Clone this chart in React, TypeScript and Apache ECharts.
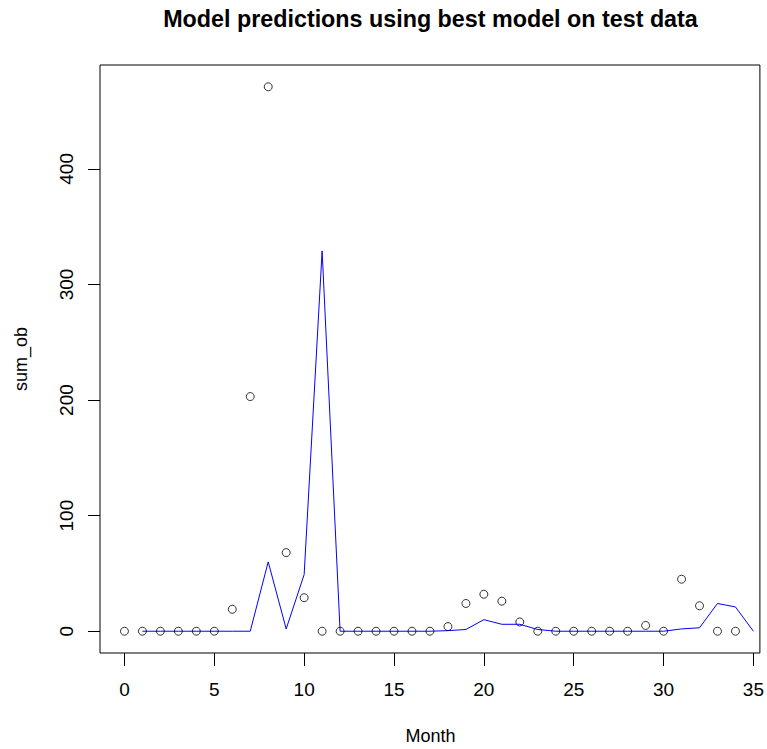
import React, { useEffect, useRef } from "react";
import * as echarts from "echarts";

// Observed monthly totals (months 0..34)
const obsMonths = Array.from({ length: 35 }, (_, i) => i);
const observed = [
  0, 0, 0, 0, 0, 0, 19, 203, 471, 68, 29, 0, 0, 0, 0, 0, 0, 0, 4, 24, 32, 26, 8,
  0, 0, 0, 0, 0, 0, 5, 0, 45, 22, 0, 0,
];

// Predicted values from the best model (months 1..35)
const predMonths = Array.from({ length: 35 }, (_, i) => i + 1);
const predicted = [
  0, 0, 0, 0, 0, 0, 0, 60, 2, 49, 329, 0, 0, 0, 0, 0, 0, 0.5, 1.5, 10, 6, 6, 1.5,
  0, 0, 0, 0, 0, 0, 0, 2, 3, 24, 21, 0,
];

const xTicks = [0, 5, 10, 15, 20, 25, 30, 35];
const yTicks = [0, 100, 200, 300, 400];

const FONT = "'Liberation Sans', Arial, sans-serif";

export default function App() {
  const ref = useRef<HTMLDivElement>(null);

  useEffect(() => {
    document.body.style.margin = "0";
    if (!ref.current) return;
    const chart = echarts.init(ref.current, undefined, { renderer: "svg" });

    // R-style 4% padding around the data range
    const xMinD = 0, xMaxD = 34;
    const xPad = (xMaxD - xMinD) * 0.04;
    const yMinD = 0, yMaxD = Math.max(...observed);
    const yPad = (yMaxD - yMinD) * 0.04;

    chart.setOption({
      animation: false,
      backgroundColor: "#ffffff",
      grid: {
        left: 100,
        top: 65,
        width: 661,
        height: 588,
        show: true,
        borderColor: "#000",
        borderWidth: 1,
        backgroundColor: "transparent",
      },
      xAxis: {
        type: "value",
        min: xMinD - xPad,
        max: xMaxD + xPad,
        splitLine: { show: false },
        axisLine: { show: false, onZero: false },
        axisTick: {
          show: true,
          length: 13,
          customValues: xTicks,
          lineStyle: { color: "#000" },
        },
        axisLabel: {
          customValues: xTicks,
          margin: 27,
          fontSize: 19,
          fontFamily: FONT,
          color: "#000",
        },
      },
      yAxis: {
        type: "value",
        min: yMinD - yPad,
        max: yMaxD + yPad,
        splitLine: { show: false },
        axisLine: { show: false, onZero: false },
        axisTick: {
          show: true,
          length: 12,
          customValues: yTicks,
          lineStyle: { color: "#000" },
        },
        axisLabel: {
          customValues: yTicks,
          rotate: 90,
          margin: 24,
          fontSize: 19,
          fontFamily: FONT,
          color: "#000",
        },
      },
      graphic: [
        {
          type: "text",
          x: 430.5,
          y: 18.5,
          style: {
            text: "Model predictions using best model on test data",
            font: `bold 23.3px ${FONT}`,
            fill: "#000",
            textAlign: "center",
            textVerticalAlign: "middle",
          },
        },
        {
          type: "text",
          x: 430.5,
          y: 736,
          style: {
            text: "Month",
            font: `18px ${FONT}`,
            fill: "#000",
            textAlign: "center",
            textVerticalAlign: "middle",
          },
        },
        {
          type: "text",
          x: 21,
          y: 359,
          rotation: Math.PI / 2,
          style: {
            text: "sum_ob",
            font: `18px ${FONT}`,
            fill: "#000",
            textAlign: "center",
            textVerticalAlign: "middle",
          },
        },
      ],
      series: [
        {
          type: "line",
          data: predMonths.map((m, i) => [m, predicted[i]]),
          showSymbol: false,
          lineStyle: { color: "#0000ff", width: 1 },
          z: 2,
        },
        {
          type: "scatter",
          data: obsMonths.map((m, i) => [m, observed[i]]),
          symbol: "circle",
          symbolSize: 8,
          itemStyle: {
            color: "rgba(0,0,0,0)",
            borderColor: "#000",
            borderWidth: 1,
          },
          z: 3,
        },
      ],
    });

    return () => chart.dispose();
  }, []);

  return <div ref={ref} style={{ width: 767, height: 749 }} />;
}
